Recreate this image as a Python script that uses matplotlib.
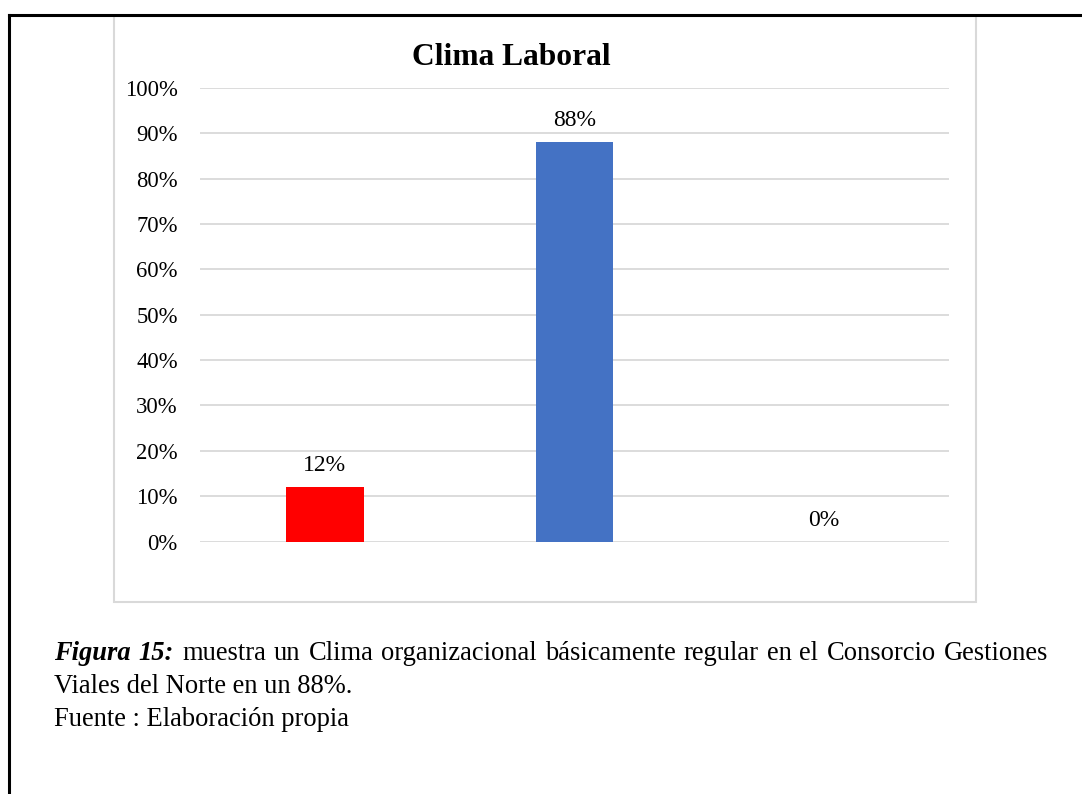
import matplotlib.pyplot as plt
from matplotlib.patches import Rectangle
from matplotlib.lines import Line2D

categories = ["Bueno", "Regular", "Malo"]
values = [0.12, 0.88, 0.0]
bar_colors = ["#FF0000", "#4472C4", "#4472C4"]
tick_values = [i / 10 for i in range(11)]
tick_labels = [f"{i * 10}%" for i in range(11)]

title = "Clima Laboral"
caption_bold = "Figura 15:"
caption_rest = "muestra un Clima organizacional básicamente regular en el Consorcio Gestiones"
caption_line2 = "Viales del Norte en un 88%."
caption_line3 = "Fuente : Elaboración propia"

W, H = 1082, 794
plt.rcParams['font.family'] = ['Liberation Serif', 'DejaVu Serif']

fig = plt.figure(figsize=(W / 100, H / 100), dpi=100)


def fx(px):
    return px / W


def fy(py):
    return 1 - py / H


# outer black border (only top and left visible)
fig.add_artist(Line2D([fx(9), fx(9)], [fy(15), 0], color='black', lw=2.2,
                      transform=fig.transFigure))
fig.add_artist(Line2D([fx(9), 1], [fy(15), fy(15)], color='black', lw=2.2,
                      transform=fig.transFigure))

# chart area box
fig.add_artist(Rectangle((fx(114), fy(602)), fx(976) - fx(114), fy(16) - fy(602),
                         fill=False, edgecolor='#D9D9D9', lw=1.5,
                         transform=fig.transFigure))

ax = fig.add_axes([fx(200), fy(541.5), fx(949) - fx(200), fy(88) - fy(541.5)])
x = list(range(len(categories)))
bars = ax.bar(x, values, width=0.31, color=bar_colors, zorder=3)

ax.set_xlim(-0.5, 2.5)
ax.set_ylim(0, 1.0)
ax.set_yticks(tick_values)
ax.set_yticklabels(tick_labels, fontsize=16.3)
ax.set_xticks([])
ax.tick_params(axis='y', length=0, pad=16)
for s in ax.spines.values():
    s.set_visible(False)
ax.grid(axis='y', color='#D9D9D9', lw=1.3, zorder=0)

for xi, v in zip(x, values):
    ax.annotate(f"{int(round(v * 100))}%", (xi, v), xytext=(0, 11.5),
                textcoords='offset points', ha='center', va='baseline', fontsize=17)

fig.text(fx(511), fy(65), title, ha='center', va='baseline', fontsize=22.7,
         fontweight='bold')

# caption, first line justified between x=54 and x=1048
cap_size = 19.1
left, right = 54, 1048
renderer = fig.canvas.get_renderer()
words = [(w, True) for w in caption_bold.split()] + [(w, False) for w in caption_rest.split()]
texts = []
for w, bold in words:
    kw = dict(fontweight='bold', fontstyle='italic') if bold else {}
    t = fig.text(0, fy(660), w, ha='left', va='baseline', fontsize=cap_size, **kw)
    texts.append(t)
widths = [t.get_window_extent(renderer=renderer).width for t in texts]
gap = (right - left - sum(widths)) / (len(texts) - 1)
xpos = left
for t, wd in zip(texts, widths):
    t.set_x(fx(xpos))
    xpos += wd + gap

fig.text(fx(left), fy(693), caption_line2, ha='left', va='baseline', fontsize=cap_size)
fig.text(fx(left), fy(726), caption_line3, ha='left', va='baseline', fontsize=cap_size)

fig.savefig("out.png", dpi=100)
